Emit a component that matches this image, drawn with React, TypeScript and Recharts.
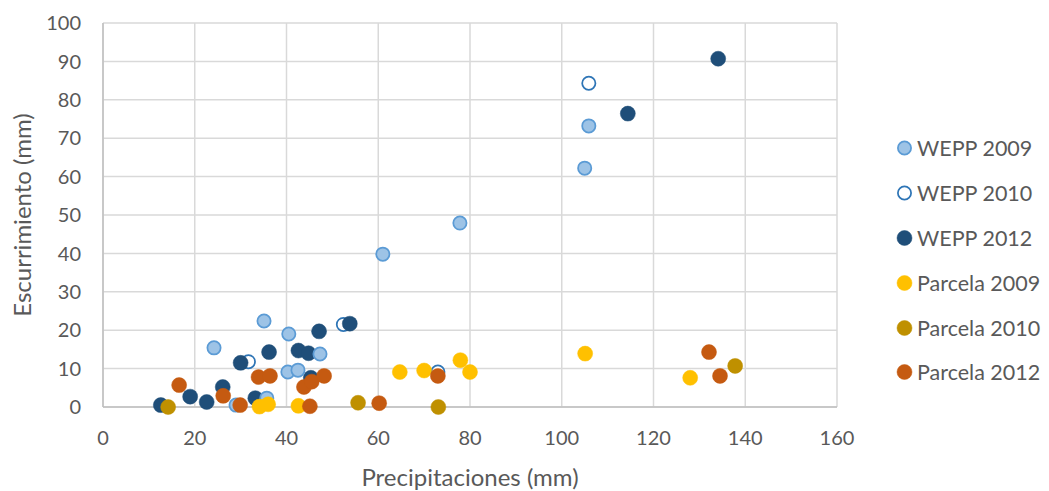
import React from 'react';
import { ScatterChart, Scatter, XAxis, YAxis, CartesianGrid, Label } from 'recharts';

const wepp2009 = [
  { x: 24.2, y: 15.4 }, { x: 35.1, y: 22.4 }, { x: 40.5, y: 19.0 }, { x: 47.3, y: 13.8 },
  { x: 40.3, y: 9.1 }, { x: 42.5, y: 9.6 }, { x: 35.7, y: 2.3 }, { x: 29.0, y: 0.5 },
  { x: 61.0, y: 39.8 }, { x: 77.8, y: 47.9 }, { x: 105.0, y: 62.2 }, { x: 105.9, y: 73.2 },
];
const wepp2010 = [
  { x: 105.9, y: 84.3 }, { x: 52.4, y: 21.5 }, { x: 31.7, y: 11.8 }, { x: 73.0, y: 9.1 },
];
const wepp2012 = [
  { x: 134.1, y: 90.7 }, { x: 114.4, y: 76.4 }, { x: 53.8, y: 21.7 }, { x: 47.1, y: 19.7 },
  { x: 36.2, y: 14.3 }, { x: 42.6, y: 14.7 }, { x: 44.8, y: 14.0 }, { x: 30.0, y: 11.5 },
  { x: 45.3, y: 7.6 }, { x: 12.6, y: 0.5 }, { x: 19.0, y: 2.7 }, { x: 22.6, y: 1.3 },
  { x: 26.1, y: 5.2 }, { x: 33.2, y: 2.3 },
];
const parcela2009 = [
  { x: 34.1, y: 0.1 }, { x: 36.0, y: 0.7 }, { x: 42.6, y: 0.3 }, { x: 64.7, y: 9.1 },
  { x: 70.0, y: 9.5 }, { x: 77.9, y: 12.2 }, { x: 80.0, y: 9.1 }, { x: 105.1, y: 13.9 },
  { x: 128.0, y: 7.6 },
];
const parcela2010 = [
  { x: 14.2, y: 0.0 }, { x: 55.6, y: 1.1 }, { x: 73.1, y: 0.0 }, { x: 137.8, y: 10.7 },
];
const parcela2012 = [
  { x: 16.6, y: 5.7 }, { x: 26.2, y: 2.9 }, { x: 29.9, y: 0.5 }, { x: 33.9, y: 7.8 },
  { x: 36.4, y: 8.1 }, { x: 43.8, y: 5.2 }, { x: 45.5, y: 6.6 }, { x: 48.2, y: 8.1 },
  { x: 45.1, y: 0.2 }, { x: 60.2, y: 1.0 }, { x: 73.0, y: 8.1 }, { x: 132.1, y: 14.3 },
  { x: 134.5, y: 8.1 },
];

const xTicks = [0, 20, 40, 60, 80, 100, 120, 140, 160];
const yTicks = [0, 10, 20, 30, 40, 50, 60, 70, 80, 90, 100];

const FONT = 'Lato, "Open Sans", sans-serif';
const TEXT = '#595959';

type Style = { fill: string; stroke: string; sw: number };
const styles: Record<string, Style> = {
  'WEPP 2009': { fill: '#9DC3E6', stroke: '#5B9BD5', sw: 1.75 },
  'WEPP 2010': { fill: '#FFFFFF', stroke: '#2E75B6', sw: 1.75 },
  'WEPP 2012': { fill: '#1F4E79', stroke: '#1F4E79', sw: 0.5 },
  'Parcela 2009': { fill: '#FFC000', stroke: '#FFC000', sw: 0.5 },
  'Parcela 2010': { fill: '#BF9000', stroke: '#BF9000', sw: 0.5 },
  'Parcela 2012': { fill: '#C55A11', stroke: '#C55A11', sw: 0.5 },
};
const legendOrder = ['WEPP 2009', 'WEPP 2010', 'WEPP 2012', 'Parcela 2009', 'Parcela 2010', 'Parcela 2012'];

const makeShape = (name: string) => (props: any) => {
  const s = styles[name];
  const r = 7.5 - (s.sw > 1 ? s.sw / 2 : 0);
  return <circle cx={props.cx} cy={props.cy} r={r} fill={s.fill} stroke={s.stroke} strokeWidth={s.sw} />;
};

export default function App() {
  return (
    <div style={{ position: 'absolute', left: 0, top: 0, width: 1049, height: 491, background: '#fff' }}>
      <ScatterChart width={1049} height={491} margin={{ top: 23, right: 212, bottom: 0, left: 0 }}>
        <CartesianGrid stroke="#D9D9D9" strokeWidth={1.5} />
        <XAxis
          type="number"
          dataKey="x"
          domain={[0, 160]}
          ticks={xTicks}
          height={84}
          tickSize={0}
          tickMargin={24}
          axisLine={{ stroke: '#BFBFBF', strokeWidth: 1.5 }}
          tickLine={false}
          tick={{ fill: TEXT, fontSize: 20, fontFamily: FONT }}
          interval={0}
        >
          <Label value="Precipitaciones (mm)" position="insideBottom" offset={5} fill={TEXT} fontSize={24} fontFamily={FONT} />
        </XAxis>
        <YAxis
          type="number"
          dataKey="y"
          domain={[0, 100]}
          ticks={yTicks}
          width={103}
          tickSize={0}
          tickMargin={22}
          axisLine={{ stroke: '#BFBFBF', strokeWidth: 1.5 }}
          tickLine={false}
          tick={{ fill: TEXT, fontSize: 20, fontFamily: FONT }}
          interval={0}
        >
          <Label value="Escurrimiento (mm)" angle={-90} position="insideLeft" offset={22} fill={TEXT} fontSize={24} fontFamily={FONT} style={{ textAnchor: 'middle' }} />
        </YAxis>
        <Scatter name="WEPP 2010" data={wepp2010} shape={makeShape('WEPP 2010')} isAnimationActive={false} />
        <Scatter name="WEPP 2012" data={wepp2012} shape={makeShape('WEPP 2012')} isAnimationActive={false} />
        <Scatter name="WEPP 2009" data={wepp2009} shape={makeShape('WEPP 2009')} isAnimationActive={false} />
        <Scatter name="Parcela 2009" data={parcela2009} shape={makeShape('Parcela 2009')} isAnimationActive={false} />
        <Scatter name="Parcela 2010" data={parcela2010} shape={makeShape('Parcela 2010')} isAnimationActive={false} />
        <Scatter name="Parcela 2012" data={parcela2012} shape={makeShape('Parcela 2012')} isAnimationActive={false} />
      </ScatterChart>
      <div style={{ position: 'absolute', left: 896, top: 126, fontFamily: FONT, fontSize: 21.5, color: TEXT }}>
        {legendOrder.map((name) => {
          const s = styles[name];
          return (
            <div key={name} style={{ display: 'flex', alignItems: 'center', height: 44.8 }}>
              <svg width={18} height={18} style={{ marginRight: 3 }}>
                <circle cx={8.5} cy={9} r={s.sw > 1 ? 6.6 : 7.5} fill={s.fill} stroke={s.stroke} strokeWidth={s.sw} />
              </svg>
              <span style={{ whiteSpace: 'nowrap' }}>{name}</span>
            </div>
          );
        })}
      </div>
    </div>
  );
}
